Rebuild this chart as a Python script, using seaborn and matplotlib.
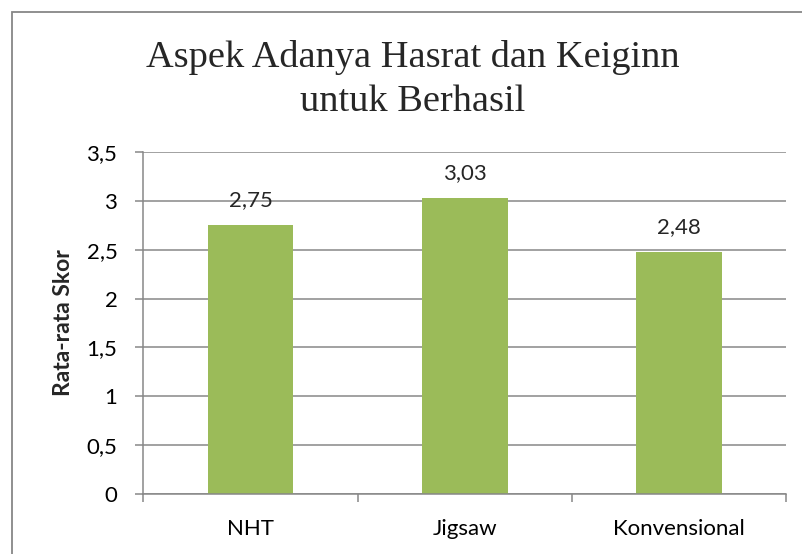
import matplotlib
matplotlib.use("Agg")
import matplotlib.pyplot as plt
import seaborn as sns
import pandas as pd
from matplotlib.patches import Rectangle
from matplotlib.ticker import FuncFormatter, FixedLocator

categories = ["NHT", "Jigsaw", "Konvensional"]
values = [2.75, 3.03, 2.48]
value_labels = ["2,75", "3,03", "2,48"]
yticks = [0, 0.5, 1, 1.5, 2, 2.5, 3, 3.5]
title_line1 = "Aspek Adanya Hasrat dan Keiginn"
title_line2 = "untuk Berhasil"
ylabel = "Rata-rata Skor"

sns.set_style("white")
plt.rcParams["font.family"] = ["Lato", "DejaVu Sans"]

W, H = 803, 554
fig = plt.figure(figsize=(W / 100, H / 100), dpi=100)
fig.patch.set_facecolor("white")

left, right, bottom, top = 143.5, 786, 494, 152
ax = fig.add_axes([left / W, 1 - bottom / H, (right - left) / W, (bottom - top) / H])

df = pd.DataFrame({"cat": categories, "val": values})
sns.barplot(data=df, x="cat", y="val", color="#9BBB59", width=0.4,
            saturation=1, ax=ax, edgecolor="none")

grey = "#878787"
ax.set_xlim(-0.5, 2.5)
ax.set_ylim(0, 3.5)
ax.set_yticks(yticks)
ax.yaxis.set_major_formatter(FuncFormatter(lambda v, p: ("%g" % v).replace(".", ",")))
ax.grid(axis="y", color=grey, linewidth=1.1)
ax.set_axisbelow(True)

for s in ["top", "right"]:
    ax.spines[s].set_visible(False)
for s in ["left", "bottom"]:
    ax.spines[s].set_color(grey)
    ax.spines[s].set_linewidth(1.1)

ax.tick_params(axis="y", which="major", length=5.8, width=1.1, color=grey,
               direction="out", pad=13, labelsize=16, labelcolor="black", left=True)
ax.tick_params(axis="x", which="major", length=0, pad=18, labelsize=16, labelcolor="black")
ax.xaxis.set_minor_locator(FixedLocator([-0.5, 0.5, 1.5, 2.5]))
ax.tick_params(axis="x", which="minor", length=5.8, width=1.1, color=grey,
               direction="out", bottom=True)

ax.set_xlabel("")
ax.set_ylabel(ylabel, fontsize=16.5, fontweight="bold", labelpad=9)

for i, (v, lab) in enumerate(zip(values, value_labels)):
    ax.annotate(lab, xy=(i, v), xytext=(0, 13.7), textcoords="offset points",
                ha="center", va="baseline", fontsize=16)

# titles (serif)
tx = 412.5 / W
fig.text(tx, 1 - 67 / H, title_line1, ha="center", va="baseline",
         fontsize=27.6, family=["Liberation Serif", "DejaVu Serif"])
fig.text(tx, 1 - 111 / H, title_line2, ha="center", va="baseline",
         fontsize=27.6, family=["Liberation Serif", "DejaVu Serif"])

# chart frame
fig.patches.append(Rectangle((12 / W, -0.05), 1.2, 1 - 12 / H + 0.05,
                             transform=fig.transFigure, fill=False,
                             edgecolor=grey, linewidth=1.3))

fig.savefig("out.png", dpi=100)
